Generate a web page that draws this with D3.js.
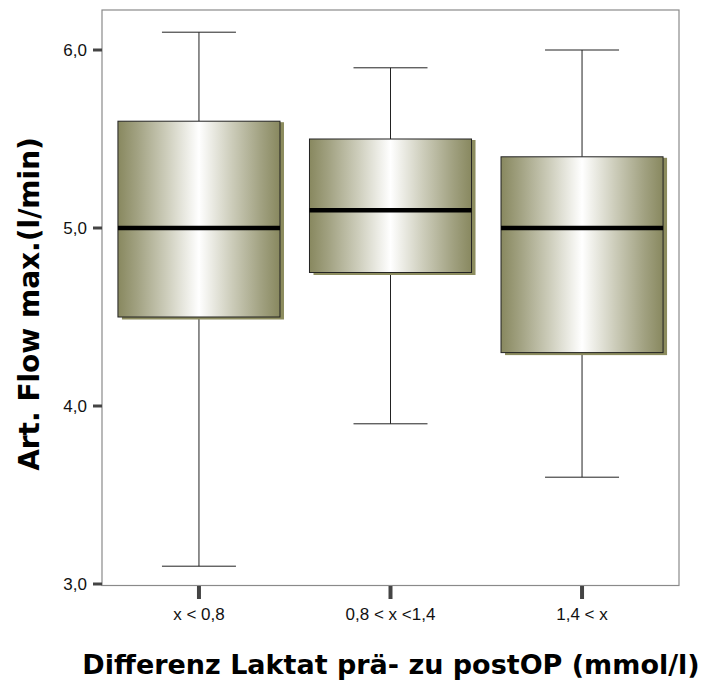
<!DOCTYPE html>
<html>
<head>
<meta charset="utf-8">
<script src="https://cdn.jsdelivr.net/npm/d3@7"></script>
<style>
  html, body { margin: 0; padding: 0; background: #fff; }
  svg { display: block; }
</style>
</head>
<body>
<svg id="chart" width="705" height="681"></svg>
<script>
// Box-plot statistics per lactate-difference group
const categories = ["x < 0,8", "0,8 < x <1,4", "1,4 < x"];
const whiskerLow  = [3.1, 3.9, 3.6];
const q1          = [4.5, 4.75, 4.3];
const median      = [5.0, 5.1, 5.0];
const q3          = [5.6, 5.5, 5.4];
const whiskerHigh = [6.1, 5.9, 6.0];
const yTicks = [3, 4, 5, 6];

const svg = d3.select("#chart");
const frame = { left: 102, right: 679, top: 10, bottom: 585.5 };

const x = d3.scaleBand().domain(categories)
  .range([frame.left + 1, frame.right - 1])
  .paddingInner(0.154).paddingOuter(0.078);
const y = d3.scaleLinear().domain([3, 6]).range([584, 50]);

// Olive cylinder gradient
const defs = svg.append("defs");
const grad = defs.append("linearGradient").attr("id", "boxFill")
  .attr("x1", "0%").attr("x2", "100%").attr("y1", "0%").attr("y2", "0%");
[[0, "#88885f"], [0.12, "#a2a282"], [0.3, "#cdcdbb"], [0.5, "#ffffff"],
 [0.7, "#cdcdbb"], [0.88, "#a2a282"], [1, "#88885f"]].forEach(([o, c]) =>
  grad.append("stop").attr("offset", o).attr("stop-color", c));

// Plot frame
svg.append("rect")
  .attr("x", frame.left).attr("y", frame.top)
  .attr("width", frame.right - frame.left).attr("height", frame.bottom - frame.top)
  .attr("fill", "none").attr("stroke", "#8a8a8a").attr("stroke-width", 1.2);

const data = categories.map((c, i) => ({
  c, lo: whiskerLow[i], q1: q1[i], med: median[i], q3: q3[i], hi: whiskerHigh[i]
}));

const bw = x.bandwidth();
const capW = 74;
const g = svg.append("g");
data.forEach(d => {
  const cx = x(d.c) + bw / 2;
  // whiskers
  g.append("line").attr("x1", cx).attr("x2", cx).attr("y1", y(d.hi)).attr("y2", y(d.q3))
    .attr("stroke", "#222").attr("stroke-width", 1);
  g.append("line").attr("x1", cx).attr("x2", cx).attr("y1", y(d.q1)).attr("y2", y(d.lo))
    .attr("stroke", "#222").attr("stroke-width", 1);
  g.append("line").attr("x1", cx - capW / 2).attr("x2", cx + capW / 2)
    .attr("y1", y(d.hi)).attr("y2", y(d.hi)).attr("stroke", "#222").attr("stroke-width", 1);
  g.append("line").attr("x1", cx - capW / 2).attr("x2", cx + capW / 2)
    .attr("y1", y(d.lo)).attr("y2", y(d.lo)).attr("stroke", "#222").attr("stroke-width", 1);
  // shadow
  g.append("rect").attr("x", x(d.c) + 4).attr("y", y(d.q3) + 1)
    .attr("width", bw).attr("height", y(d.q1) - y(d.q3) + 1.5)
    .attr("fill", "#8c8c5e");
  // box
  g.append("rect").attr("x", x(d.c)).attr("y", y(d.q3))
    .attr("width", bw).attr("height", y(d.q1) - y(d.q3))
    .attr("fill", "url(#boxFill)").attr("stroke", "#222").attr("stroke-width", 1);
  // median
  g.append("line").attr("x1", x(d.c)).attr("x2", x(d.c) + bw)
    .attr("y1", y(d.med)).attr("y2", y(d.med))
    .attr("stroke", "#000").attr("stroke-width", 4.5);
});

// Y axis ticks and labels
const yAxis = svg.append("g");
yTicks.forEach(t => {
  yAxis.append("line").attr("x1", 93).attr("x2", frame.left)
    .attr("y1", y(t)).attr("y2", y(t)).attr("stroke", "#444").attr("stroke-width", 3);
  yAxis.append("text").attr("x", 87).attr("y", y(t)).attr("dy", "0.35em")
    .attr("text-anchor", "end").attr("font-family", "Liberation Sans, Arial, sans-serif")
    .attr("font-size", 17).attr("fill", "#111").text(d3.format(".1f")(t).replace(".", ","));
});

// X axis ticks and labels
const xAxis = svg.append("g");
categories.forEach(c => {
  const cx = x(c) + bw / 2;
  xAxis.append("line").attr("x1", cx).attr("x2", cx).attr("y1", 586).attr("y2", 599)
    .attr("stroke", "#444").attr("stroke-width", 4);
  xAxis.append("text").attr("x", cx).attr("y", 620).attr("text-anchor", "middle")
    .attr("font-family", "Liberation Sans, Arial, sans-serif")
    .attr("font-size", 17).attr("fill", "#111").text(c);
});

// Axis titles
svg.append("text")
  .attr("transform", "translate(39,304) rotate(-90)")
  .attr("text-anchor", "middle")
  .attr("font-family", "DejaVu Sans, Verdana, sans-serif").attr("font-weight", "bold")
  .attr("font-size", 28).attr("fill", "#000")
  .text("Art. Flow max.(l/min)");

svg.append("text")
  .attr("x", 391).attr("y", 674).attr("text-anchor", "middle")
  .attr("font-family", "DejaVu Sans, Verdana, sans-serif").attr("font-weight", "bold")
  .attr("font-size", 27).attr("fill", "#000")
  .text("Differenz Laktat prä- zu postOP (mmol/l)");
</script>
</body>
</html>
